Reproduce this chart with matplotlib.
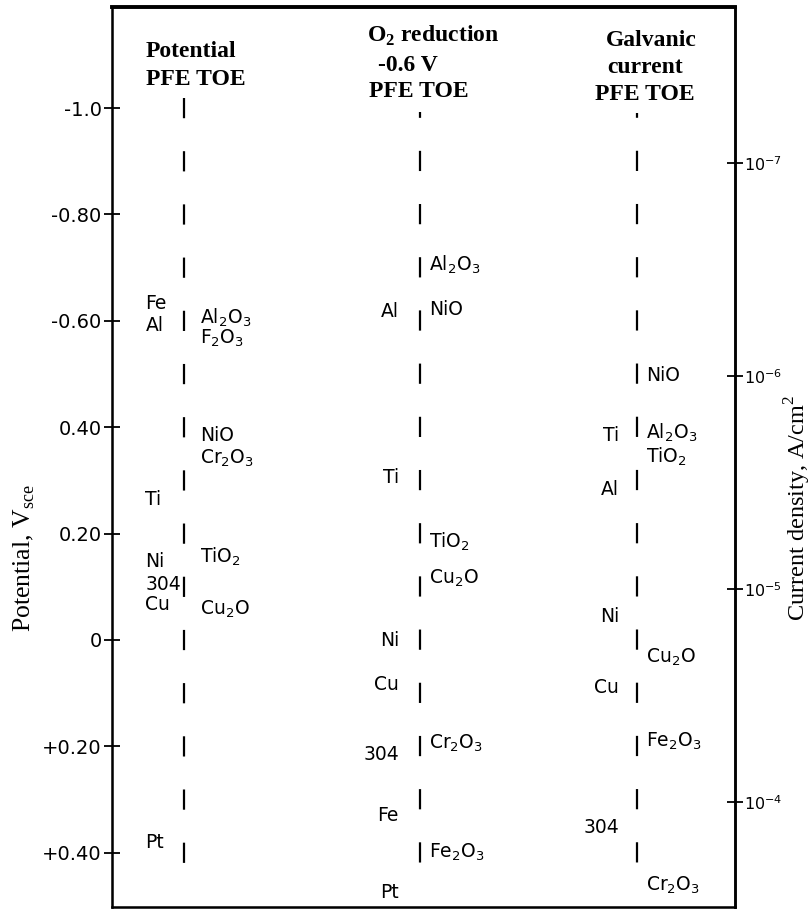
import matplotlib
matplotlib.use("Agg")
import matplotlib.pyplot as plt

# fonts: DejaVu for the hand-lettered labels, Liberation Serif for headers / axis titles
plt.rcParams["font.family"] = "DejaVu Sans"
plt.rcParams["mathtext.fontset"] = "custom"
plt.rcParams["mathtext.rm"] = "DejaVu Sans"
plt.rcParams["mathtext.it"] = "DejaVu Sans:italic"
plt.rcParams["mathtext.sf"] = "Liberation Serif"
plt.rcParams["mathtext.bf"] = "Liberation Serif:bold"
plt.rcParams["lines.scale_dashes"] = False

# potential column (V vs SCE)
potential_metals = ["Fe", "Al", "Ti", "Ni", "304", "Cu", "Pt"]
potential_metal_v = [-0.633, -0.592, -0.265, -0.147, -0.104, -0.066, 0.381]
potential_oxides = ["Al$_2$O$_3$", "F$_2$O$_3$", "NiO", "Cr$_2$O$_3$", "TiO$_2$", "Cu$_2$O"]
potential_oxide_v = [-0.605, -0.568, -0.385, -0.342, -0.156, -0.057]

# O2 reduction at -0.6 V column (A/cm2)
o2_metals = ["Al", "Ti", "Ni", "Cu", "304", "Fe", "Pt"]
o2_metal_j = [5.0e-7, 3.0e-6, 1.75e-5, 2.8e-5, 6.0e-5, 1.16e-4, 2.65e-4]
o2_oxides = ["Al$_2$O$_3$", "NiO", "TiO$_2$", "Cu$_2$O", "Cr$_2$O$_3$", "Fe$_2$O$_3$"]
o2_oxide_j = [3.0e-7, 4.9e-7, 6.0e-6, 8.9e-6, 5.3e-5, 1.72e-4]

# galvanic current column (A/cm2)
galv_metals = ["Ti", "Al", "Ni", "Cu", "304"]
galv_metal_j = [1.9e-6, 3.4e-6, 1.35e-5, 2.9e-5, 1.32e-4]
galv_oxides = ["NiO", "Al$_2$O$_3$", "TiO$_2$", "Cu$_2$O", "Fe$_2$O$_3$", "Cr$_2$O$_3$"]
galv_oxide_j = [1.0e-6, 1.85e-6, 2.4e-6, 2.1e-5, 5.2e-5, 2.45e-4]

# axis ticks
potential_ticks = [-1.0, -0.8, -0.6, -0.4, -0.2, 0.0, 0.2, 0.4]
potential_tick_labels = ["-1.0", "-0.80", "-0.60", "0.40", "0.20", "0", "+0.20", "+0.40"]
current_ticks = [1e-7, 1e-6, 1e-5, 1e-4]
current_tick_labels = ["$10^{-7}$", "$10^{-6}$", "$10^{-5}$", "$10^{-4}$"]

W, H = 812, 909
fig = plt.figure(figsize=(W / 100, H / 100), dpi=100)
fig.set_facecolor("white")
ax = fig.add_axes([112 / W, 1 - 907 / H, 623 / W, 900 / H])
ax.set_xlim(0, 1)
ax.set_ylim(0.502, -1.190)
ax.set_xticks([])
ax.set_yticks(potential_ticks)
ax.set_yticklabels(potential_tick_labels)
ax.tick_params(axis="y", direction="inout", length=11, width=1.3, labelsize=14, pad=2)
for side, lw in [("left", 1.8), ("right", 1.8), ("bottom", 1.8), ("top", 2.8)]:
    ax.spines[side].set_linewidth(lw)

ax2 = ax.twinx()
ax2.set_yscale("log")
ax2.set_ylim(10 ** -3.507, 10 ** -7.732)
ax2.set_yticks(current_ticks)
ax2.set_yticklabels(current_tick_labels)
ax2.minorticks_off()
ax2.tick_params(axis="y", direction="inout", length=11, width=1.3, labelsize=11.5, pad=1)
ax2.spines["right"].set_linewidth(1.8)

# dashed columns, one dash every 0.1 V
col_x = [0.116, 0.494, 0.843]
col_top = [-1.019, -0.992, -0.99]
col_bottom = [0.42, 0.42, 0.42]
px_per_volt = 900 / (0.502 + 1.190)
dash_pt = 0.038 * px_per_volt * 0.72
gap_pt = 0.062 * px_per_volt * 0.72
for x, top, bot in zip(col_x, col_top, col_bottom):
    off = (top - col_top[0]) * px_per_volt * 0.72
    ax.plot([x, x], [top, bot], color="black", lw=1.6, solid_capstyle="butt",
            dash_capstyle="butt", linestyle=(off, (dash_pt, gap_pt)))


def put(axis, x, names, values, dx, ha):
    for name, val in zip(names, values):
        axis.annotate(name, xy=(x, val), xytext=(dx, 0), textcoords="offset points",
                      ha=ha, va="center", fontsize=13.5)


put(ax, col_x[0], potential_metals, potential_metal_v, -28, "left")
put(ax, col_x[0], potential_oxides, potential_oxide_v, 11.5, "left")
put(ax2, col_x[1], o2_metals, o2_metal_j, -15, "right")
put(ax2, col_x[1], o2_oxides, o2_oxide_j, 7, "left")
put(ax2, col_x[2], galv_metals, galv_metal_j, -13, "right")
put(ax2, col_x[2], galv_oxides, galv_oxide_j, 6.5, "left")

# column headers
head = dict(family="Liberation Serif", fontweight="bold", fontsize=17, va="baseline")
fig.text(146 / W, 1 - 57 / H, "Potential", ha="left", **head)
fig.text(146 / W, 1 - 85 / H, "PFE TOE", ha="left", **head)
fig.text(367 / W, 1 - 42 / H, r"O$_\mathbf{2}$ reduction", ha="left", **head)
fig.text(378 / W, 1 - 71 / H, "-0.6 V", ha="left", **head)
fig.text(369 / W, 1 - 97 / H, "PFE TOE", ha="left", **head)
fig.text(651 / W, 1 - 46 / H, "Galvanic", ha="center", **head)
fig.text(645 / W, 1 - 73 / H, "current", ha="center", **head)
fig.text(645 / W, 1 - 100 / H, "PFE TOE", ha="center", **head)

# axis titles
fig.text(24 / W, 1 - 558 / H, r"Potential, V$_{\mathsf{sce}}$", rotation=90,
         family="Liberation Serif", fontsize=18.5, ha="center", va="center")
fig.text(798 / W, 1 - 508 / H, r"Current density, A/cm$^{\mathsf{2}}$", rotation=90,
         family="Liberation Serif", fontsize=17.5, ha="center", va="center")

fig.savefig("out.png", dpi=100, facecolor="white")
